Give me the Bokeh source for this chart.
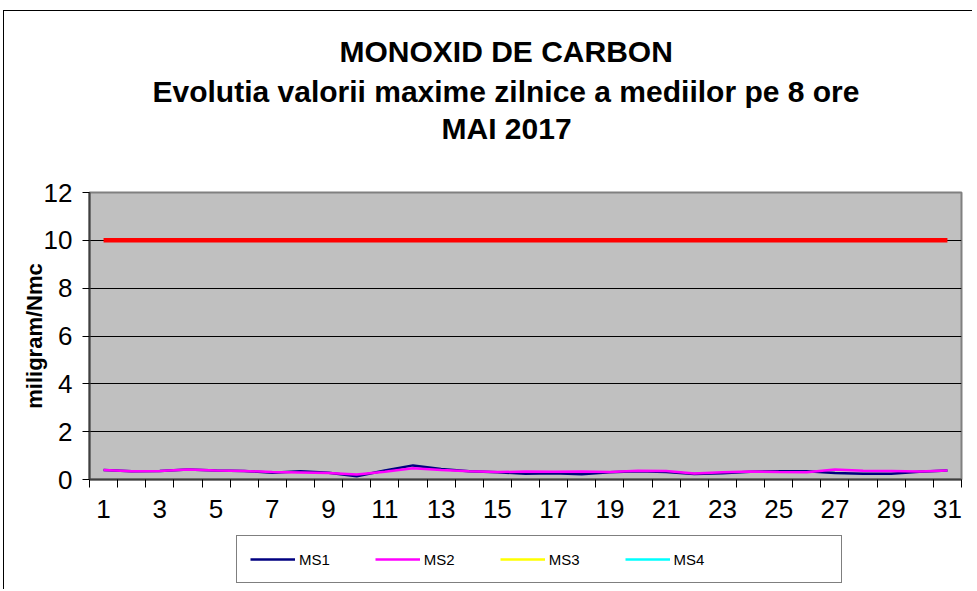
import numpy as np
from bokeh.plotting import figure
from bokeh.layouts import column
from bokeh.models import Title, Legend, LegendItem, FixedTicker, Range1d
from bokeh.embed import file_html
from bokeh.resources import INLINE

# ---- data ----
days = list(range(1, 32))
ms1 = [0.40, 0.35, 0.36, 0.42, 0.38, 0.36, 0.28, 0.35, 0.28, 0.14,
       0.38, 0.59, 0.44, 0.35, 0.30, 0.24, 0.26, 0.22, 0.30, 0.34,
       0.31, 0.23, 0.26, 0.32, 0.35, 0.34, 0.27, 0.24, 0.24, 0.32, 0.38]
ms2 = [0.40, 0.35, 0.36, 0.42, 0.38, 0.36, 0.31, 0.29, 0.27, 0.21,
       0.32, 0.47, 0.40, 0.35, 0.31, 0.33, 0.32, 0.33, 0.31, 0.37,
       0.36, 0.25, 0.30, 0.33, 0.31, 0.30, 0.42, 0.37, 0.36, 0.33, 0.38]
ms3 = [np.nan] * len(days)   # no data reported for MS3
ms4 = [np.nan] * len(days)   # no data reported for MS4
limit = [10, 10, 10, 10, 10, 10, 10, 10, 10, 10, 10, 10, 10, 10, 10, 10,
         10, 10, 10, 10, 10, 10, 10, 10, 10, 10, 10, 10, 10, 10, 10]
y_ticks = [0, 2, 4, 6, 8, 10, 12]
x_tick_labels = [1, 3, 5, 7, 9, 11, 13, 15, 17, 19, 21, 23, 25, 27, 29, 31]
title_lines = ["MONOXID DE CARBON",
               "Evolutia valorii maxime zilnice a mediilor pe 8 ore",
               "MAI 2017"]
y_label = "miligram/Nmc"
series_names = ["MS1", "MS2", "MS3", "MS4"]
series_colors = ["#000080", "#FF00FF", "#FFFF00", "#00FFFF"]
series_values = [ms1, ms2, ms3, ms4]

FONT = "Liberation Sans"
W, H1, H2 = 968, 520, 58

p = figure(width=W, height=H1, output_backend="svg", toolbar_location=None,
           x_range=Range1d(days[0] - 0.5, days[-1] + 0.5),
           y_range=Range1d(y_ticks[0], y_ticks[-1]),
           min_border_left=85, min_border_right=11,
           min_border_top=181, min_border_bottom=52)

p.background_fill_color = "#C0C0C0"
p.border_fill_color = "white"
p.outline_line_color = "#808080"
p.outline_line_width = 2

# grid
p.xgrid.visible = False
p.ygrid.ticker = FixedTicker(ticks=y_ticks)
p.ygrid.grid_line_color = "black"
p.ygrid.grid_line_width = 1

# x axis: labels on odd days, ticks at category boundaries
p.xaxis.ticker = FixedTicker(ticks=x_tick_labels,
                             minor_ticks=[d - 0.5 for d in days] + [days[-1] + 0.5])
p.xaxis.major_tick_line_color = None
p.xaxis.minor_tick_out = 8
p.xaxis.minor_tick_in = 0
p.xaxis.minor_tick_line_color = "black"
p.xaxis.axis_line_color = "#404040"
p.xaxis.axis_line_width = 2
p.xaxis.major_label_text_font = FONT
p.xaxis.major_label_text_font_size = "26px"
p.xaxis.major_label_text_color = "black"
p.xaxis.major_label_standoff = 12

# y axis
p.yaxis.ticker = FixedTicker(ticks=y_ticks)
p.yaxis.minor_tick_line_color = None
p.yaxis.major_tick_out = 7
p.yaxis.major_tick_in = 0
p.yaxis.major_tick_line_color = "black"
p.yaxis.axis_line_color = "#404040"
p.yaxis.axis_line_width = 2
p.yaxis.major_label_text_font = FONT
p.yaxis.major_label_text_font_size = "26px"
p.yaxis.major_label_text_color = "black"
p.yaxis.major_label_standoff = 10
p.yaxis.axis_label = y_label
p.yaxis.axis_label_text_font = FONT
p.yaxis.axis_label_text_font_size = "22px"
p.yaxis.axis_label_text_font_style = "bold"
p.yaxis.axis_label_text_color = "black"
p.yaxis.axis_label_standoff = -6

# series
for vals, col in zip(series_values, series_colors):
    p.line(days, vals, line_color=col, line_width=2.5)
p.line(days, limit, line_color="#FF0000", line_width=4.5)

# titles (first added sits closest to the frame)
tstyle = dict(text_font=FONT, text_font_size="30px", text_font_style="bold",
              text_color="black", align="left")
p.add_layout(Title(text=" ", text_font_size="14px", standoff=30), "above")
p.add_layout(Title(text=title_lines[2], offset=352, standoff=0, **tstyle), "above")
p.add_layout(Title(text=title_lines[1], offset=63, standoff=4, **tstyle), "above")
p.add_layout(Title(text=title_lines[0], offset=250, standoff=6, **tstyle), "above")

# ---- legend strip below the chart ----
lg = figure(width=W, height=H2, output_backend="svg", toolbar_location=None,
            x_range=Range1d(-20, -19), y_range=Range1d(y_ticks[0], y_ticks[-1]),
            min_border_left=0, min_border_right=0, min_border_top=0, min_border_bottom=0)
lg.axis.visible = False
lg.grid.visible = False
lg.outline_line_color = None
lg.background_fill_color = "white"
lg.border_fill_color = "white"
items = []
for name, vals, col in zip(series_names, series_values, series_colors):
    r = lg.line(days, vals, line_color=col, line_width=2.5)
    items.append(LegendItem(label=name, renderers=[r]))
pad_r = lg.line(days, ms1, line_alpha=0)
items.append(LegendItem(label=" ", renderers=[pad_r]))
leg = Legend(items=items, orientation="horizontal", location=(147, 6), margin=0,
             padding=13, glyph_width=45, glyph_height=20, label_standoff=4,
             label_width=30, spacing=45,
             border_line_color="black", border_line_width=1,
             background_fill_color="white", background_fill_alpha=1,
             label_text_font=FONT, label_text_font_size="15px",
             label_text_color="black")
lg.add_layout(leg)

page = column(p, lg, spacing=0)
page.styles = {"margin-left": "3px", "margin-top": "10px",
               "border-top": "1px solid #000", "border-left": "1px solid #000"}

open("out.html", "w").write(file_html(page, INLINE))
